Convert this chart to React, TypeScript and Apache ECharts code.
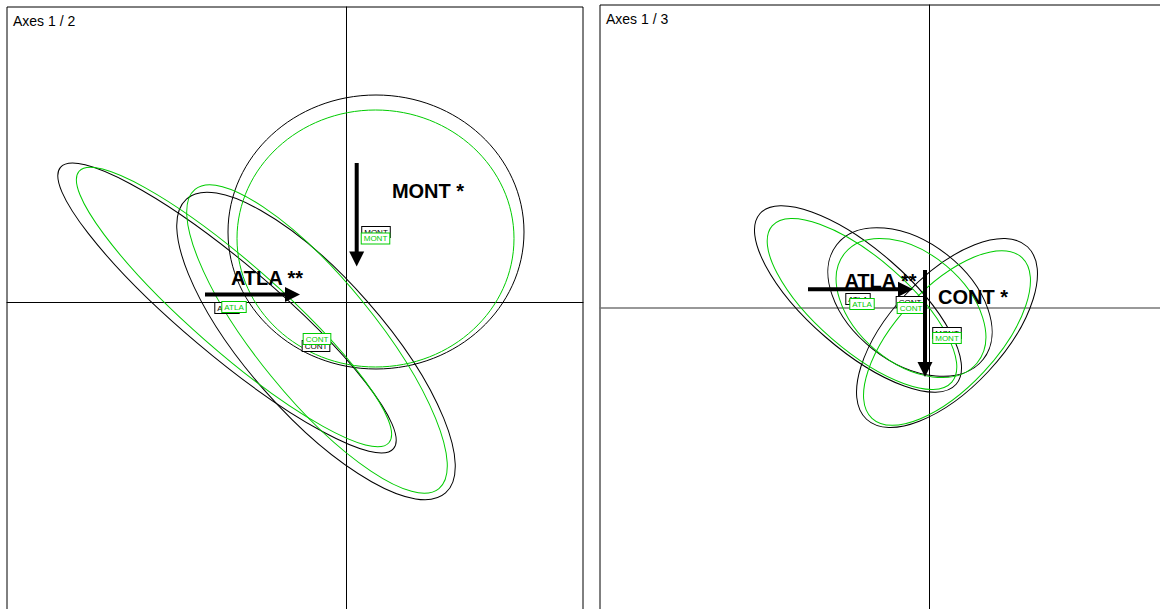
import React, { useEffect, useRef } from 'react';
import * as echarts from 'echarts';

const groups = ['ATLA', 'CONT', 'MONT'];

// each ellipse: [centerX, centerY, semiAxis1, semiAxis2, angleDeg]
const ax12Black = [
  [-1.19, -0.06, 2.18, 0.46, -40.2],
  [-0.30, -0.44, 1.96, 0.68, -48.6],
  [0.30, 0.70, 1.48, 1.37, 0],
];
const ax12Green = [
  [-1.12, -0.05, 2.06, 0.44, -41.2],
  [-0.29, -0.37, 1.93, 0.59, -50.8],
  [0.295, 0.635, 1.385, 1.285, 0],
];
const ax13Black = [
  [-0.71, 0.09, 1.30, 0.50, -41],
  [-0.19, 0.06, 0.93, 0.60, -38],
  [0.18, -0.25, 1.18, 0.565, 47],
];
const ax13Green = [
  [-0.67, 0.04, 1.19, 0.46, -41],
  [-0.18, 0.0, 0.86, 0.55, -40],
  [0.18, -0.30, 1.10, 0.50, 47],
];

// arrows: [fromX, fromY, toX, toY]
const ax12Arrows = [
  [-1.41, 0.075, -0.46, 0.075],
  [0.107, 1.39, 0.107, 0.355],
];
const ax12ArrowNames = ['ATLA **', 'MONT *'];
const ax12ArrowLabelAt = [
  [-0.79, 0.24],
  [0.82, 1.11],
];
const ax13Arrows = [
  [-1.21, 0.187, -0.16, 0.187],
  [-0.04, 0.38, -0.04, -0.69],
];
const ax13ArrowNames = ['ATLA **', 'CONT *'];
const ax13ArrowLabelAt = [
  [-0.485, 0.275],
  [0.44, 0.115],
];

const panelTitles = ['Axes 1 / 2', 'Axes 1 / 3'];

const GREEN = '#00cc00';
const FONT = '"Liberation Sans", Arial, sans-serif';

function ellipseSeries(data: number[][], color: string, gi: number) {
  return {
    type: 'custom',
    xAxisIndex: gi,
    yAxisIndex: gi,
    clip: true,
    encode: { x: 0, y: 1 },
    data,
    renderItem: (params: any, api: any) => {
      const p = api.coord([api.value(0), api.value(1)]);
      const s = api.size([api.value(2), api.value(3)]);
      return {
        type: 'ellipse',
        x: p[0],
        y: p[1],
        rotation: (api.value(4) * Math.PI) / 180,
        shape: { cx: 0, cy: 0, rx: s[0], ry: s[1] },
        style: { fill: 'none', stroke: color, lineWidth: 1 },
      };
    },
  };
}

function boxLabelSeries(data: number[][], color: string, gi: number) {
  return {
    type: 'custom',
    xAxisIndex: gi,
    yAxisIndex: gi,
    encode: { x: 0, y: 1 },
    data,
    renderItem: (params: any, api: any) => {
      const p = api.coord([api.value(0), api.value(1)]);
      return {
        type: 'text',
        x: p[0],
        y: p[1],
        style: {
          text: groups[params.dataIndex],
          fill: color,
          font: `8px ${FONT}`,
          align: 'center',
          verticalAlign: 'middle',
          backgroundColor: '#fff',
          borderColor: color,
          borderWidth: 1,
          padding: [1, 2, 1, 2],
        },
      };
    },
  };
}

function arrowSeries(data: number[][], gi: number) {
  return {
    type: 'custom',
    xAxisIndex: gi,
    yAxisIndex: gi,
    encode: { x: [0, 2], y: [1, 3] },
    data,
    renderItem: (params: any, api: any) => {
      const p0 = api.coord([api.value(0), api.value(1)]);
      const p1 = api.coord([api.value(2), api.value(3)]);
      const dx = p1[0] - p0[0];
      const dy = p1[1] - p0[1];
      const len = Math.hypot(dx, dy) || 1;
      const ux = dx / len;
      const uy = dy / len;
      const hl = 15;
      const hw = 7.5;
      const bx = p1[0] - ux * hl;
      const by = p1[1] - uy * hl;
      return {
        type: 'group',
        children: [
          {
            type: 'line',
            shape: { x1: p0[0], y1: p0[1], x2: bx + ux * 2, y2: by + uy * 2 },
            style: { stroke: '#000', lineWidth: 4 },
          },
          {
            type: 'polygon',
            shape: {
              points: [
                [p1[0], p1[1]],
                [bx - uy * hw, by + ux * hw],
                [bx + uy * hw, by - ux * hw],
              ],
            },
            style: { fill: '#000' },
          },
        ],
      };
    },
  };
}

function arrowLabelSeries(data: number[][], names: string[], gi: number) {
  return {
    type: 'custom',
    xAxisIndex: gi,
    yAxisIndex: gi,
    encode: { x: 0, y: 1 },
    data,
    renderItem: (params: any, api: any) => {
      const p = api.coord([api.value(0), api.value(1)]);
      return {
        type: 'text',
        x: p[0],
        y: p[1],
        style: {
          text: names[params.dataIndex],
          fill: '#000',
          font: `bold 20px ${FONT}`,
          align: 'center',
          verticalAlign: 'middle',
        },
      };
    },
  };
}

const axisCommon = {
  type: 'value',
  axisLine: { show: true, onZero: true, lineStyle: { color: '#000', width: 1 } },
  axisTick: { show: false },
  axisLabel: { show: false },
  splitLine: { show: false },
};

export default function App() {
  const ref = useRef<HTMLDivElement>(null);
  useEffect(() => {
    if (!ref.current) return;
    const chart = echarts.init(ref.current, undefined, { renderer: 'svg' });
    const option: any = {
      animation: false,
      backgroundColor: '#fff',
      grid: [
        { left: 7, top: 7, width: 576, height: 660, show: true, borderColor: '#000', borderWidth: 1 },
        { left: 600, top: 5, width: 580, height: 660, show: true, borderColor: '#000', borderWidth: 1 },
      ],
      xAxis: [
        { ...axisCommon, gridIndex: 0, min: -3.39, max: 2.37 },
        {
          ...axisCommon,
          gridIndex: 1,
          min: -3.29,
          max: 2.51,
          axisLine: { show: true, onZero: true, lineStyle: { color: '#777', width: 1.6 } },
        },
      ],
      yAxis: [
        { ...axisCommon, gridIndex: 0, min: -3.65, max: 2.95 },
        { ...axisCommon, gridIndex: 1, min: -3.57, max: 3.03 },
      ],
      graphic: [
        { type: 'text', x: 13, y: 14, style: { text: panelTitles[0], font: `14px ${FONT}`, fill: '#000', verticalAlign: 'top' } },
        { type: 'text', x: 606, y: 12, style: { text: panelTitles[1], font: `14px ${FONT}`, fill: '#000', verticalAlign: 'top' } },
      ],
      series: [
        ellipseSeries(ax12Black, '#000', 0),
        ellipseSeries(ax12Green, GREEN, 0),
        boxLabelSeries(ax12Black, '#000', 0),
        boxLabelSeries(ax12Green, GREEN, 0),
        arrowSeries(ax12Arrows, 0),
        arrowLabelSeries(ax12ArrowLabelAt, ax12ArrowNames, 0),
        ellipseSeries(ax13Black, '#000', 1),
        ellipseSeries(ax13Green, GREEN, 1),
        boxLabelSeries(ax13Black, '#000', 1),
        boxLabelSeries(ax13Green, GREEN, 1),
        arrowSeries(ax13Arrows, 1),
        arrowLabelSeries(ax13ArrowLabelAt, ax13ArrowNames, 1),
      ],
    };
    chart.setOption(option);
    return () => chart.dispose();
  }, []);
  return (
    <div style={{ position: 'fixed', left: 0, top: 0, width: 1160, height: 609, overflow: 'hidden', background: '#fff' }}>
      <div ref={ref} style={{ width: 1200, height: 690 }} />
    </div>
  );
}
